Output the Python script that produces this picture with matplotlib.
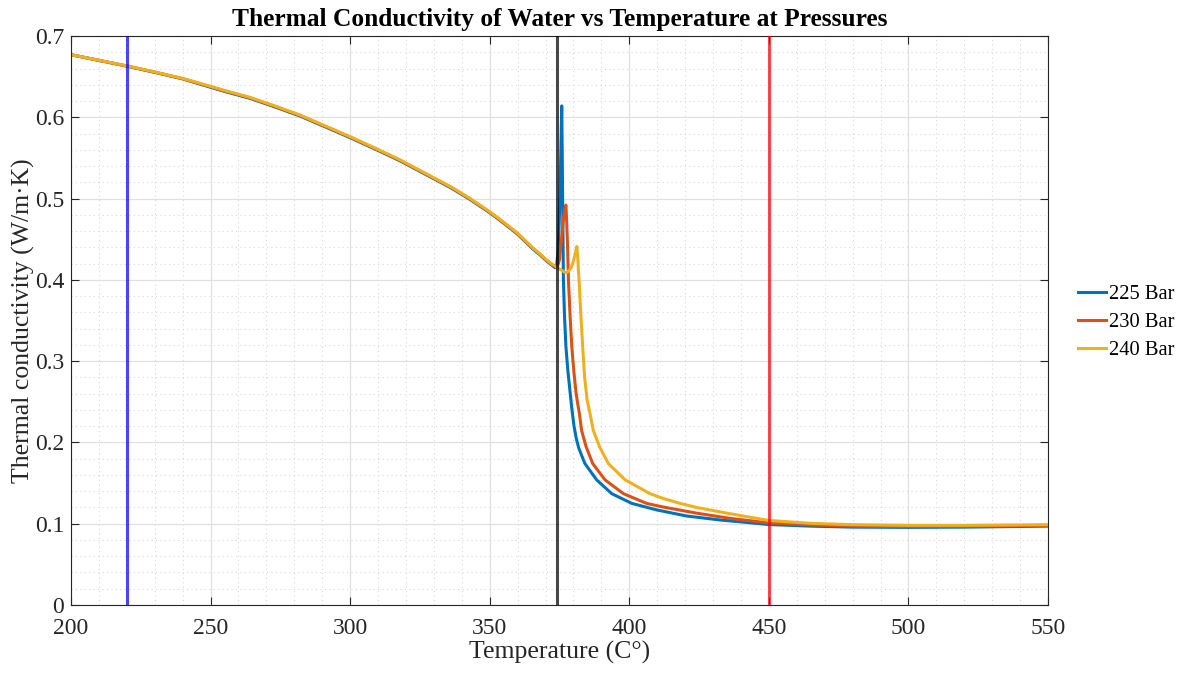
import matplotlib
matplotlib.use("Agg")
import matplotlib.pyplot as plt
from matplotlib.ticker import MultipleLocator

# ---- data ----
T_225 = [200, 210, 220, 230, 240, 246.2, 255, 264, 273, 282, 291, 300, 309, 318, 327, 336, 343, 350, 355,
         360, 365.6, 368, 370.4, 372, 373.4, 374.0, 374.5, 374.9, 375.2, 375.5, 375.8,
         376.0, 376.2, 376.4, 376.8, 377.3, 378.0, 378.7, 379.3, 380.2, 381.0, 381.9, 384.1, 388.3,
         393.7, 400.9, 409.8, 420.5, 432.5, 450, 465, 480, 500, 520, 550]
k_225 = [0.677, 0.670, 0.663, 0.6553, 0.6473, 0.6408, 0.6318, 0.6234, 0.6128, 0.6016, 0.5883, 0.5749, 0.5608,
         0.5462, 0.5298, 0.5134, 0.4988, 0.4826, 0.4698, 0.4561, 0.4376, 0.4308, 0.4232, 0.4188, 0.415,
         0.418, 0.435, 0.47, 0.51, 0.56, 0.614,
         0.55, 0.47, 0.40, 0.355, 0.318, 0.288, 0.265, 0.245, 0.220, 0.205, 0.193, 0.174, 0.154,
         0.137, 0.125, 0.117, 0.1095, 0.1046, 0.099, 0.097, 0.0958, 0.0955, 0.0958, 0.097]

T_230 = [200, 210, 220, 230, 240, 246.2, 255, 264, 273, 282, 291, 300, 309, 318, 327, 336, 343, 350, 355,
         360, 365.6, 368, 370.4, 372, 373.4, 374.2, 375.0, 375.8, 376.5, 377.0, 377.3,
         377.6, 377.9, 378.2, 378.8, 379.4, 380.2, 380.9, 381.5, 382.1, 382.9, 384.5, 386.9, 391.3,
         397.9, 406.2, 412.2, 424.1, 436.1, 450, 465, 480, 500, 520, 550]
k_230 = [0.677, 0.670, 0.663, 0.6555, 0.6475, 0.6413, 0.6325, 0.6241, 0.6135, 0.6023, 0.589, 0.5756, 0.5615,
         0.5469, 0.5305, 0.5141, 0.4995, 0.4833, 0.4705, 0.4568, 0.4383, 0.4315, 0.4239, 0.4195, 0.4165,
         0.416, 0.425, 0.453, 0.478, 0.488, 0.492,
         0.47, 0.44, 0.40, 0.355, 0.318, 0.285, 0.262, 0.248, 0.236, 0.215, 0.195, 0.174, 0.154,
         0.137, 0.125, 0.1205, 0.113, 0.1066, 0.101, 0.0985, 0.097, 0.0965, 0.0967, 0.0978]

T_240 = [200, 210, 220, 230, 240, 246.2, 255, 264, 273, 282, 291, 300, 309, 318, 327, 336, 343, 350, 355,
         360, 365.6, 368, 370.4, 372, 373.4, 374.2, 375.2, 376.2, 377.0, 377.6, 378.3, 379.0,
         379.8, 380.5, 381.0, 381.2, 381.5, 381.8, 382.0, 382.6, 383.3, 384.0, 384.9, 385.9, 387.1,
         389.3, 392.5, 398.5, 407.4, 412.2, 418.2, 424.1, 434.9, 450, 465, 480, 500, 520, 550]
k_240 = [0.677, 0.6702, 0.6633, 0.6558, 0.6478, 0.6418, 0.633, 0.6246, 0.614, 0.6028, 0.5895, 0.5761, 0.562,
         0.5474, 0.531, 0.5146, 0.5, 0.4838, 0.471, 0.4573, 0.4388, 0.432, 0.4244, 0.42, 0.417,
         0.415, 0.413, 0.411, 0.409, 0.409, 0.411, 0.414,
         0.421, 0.430, 0.438, 0.441, 0.43, 0.41, 0.40, 0.36, 0.318, 0.28, 0.252, 0.236, 0.215,
         0.195, 0.174, 0.154, 0.137, 0.131, 0.125, 0.120, 0.113, 0.104, 0.1005, 0.0988, 0.098, 0.098, 0.0988]

series_labels = ["225 Bar", "230 Bar", "240 Bar"]
series_colors = ["#0072BD", "#D95319", "#EDB120"]
vlines_x = [220, 373.95, 450]
vlines_colors = ["#0000FF", "#000000", "#FF0000"]

title = "Thermal Conductivity of Water vs Temperature at Pressures"
xlabel = "Temperature (C°)"
ylabel = "Thermal conductivity (W/m·K)"

plt.rcParams['font.family'] = ['Liberation Serif', 'DejaVu Serif']

fig = plt.figure(figsize=(11.84, 6.73), dpi=100)
ax = fig.add_axes([71/1184, 1-605/673, (1048-71)/1184, (605-36)/673])

for xv, c in zip(vlines_x, vlines_colors):
    ax.axvline(xv, color=c, lw=2.2, alpha=0.72, zorder=3)

for T, k, lab, c in zip([T_225, T_230, T_240], [k_225, k_230, k_240], series_labels, series_colors):
    ax.plot(T, k, color=c, lw=2.2, label=lab, zorder=2, solid_joinstyle='round')

ax.set_xlim(200, 550)
ax.set_ylim(0, 0.7)
ax.xaxis.set_major_locator(MultipleLocator(50))
ax.xaxis.set_minor_locator(MultipleLocator(10))
ax.yaxis.set_minor_locator(MultipleLocator(0.02))
ax.set_yticks([0, 0.1, 0.2, 0.3, 0.4, 0.5, 0.6, 0.7])
ax.set_yticklabels(["0", "0.1", "0.2", "0.3", "0.4", "0.5", "0.6", "0.7"])

ax.grid(which='major', color='#e0e0e0', lw=0.9, zorder=0)
ax.grid(which='minor', color='#d8d8d8', lw=0.8, ls=(0, (1, 3)), zorder=0)
ax.set_axisbelow(True)

ax.tick_params(which='major', direction='in', length=6, width=0.8, top=True, right=True,
               labelsize=17, colors='#262626')
ax.tick_params(axis='x', which='major', pad=9)
ax.tick_params(axis='y', which='major', pad=5)
ax.tick_params(which='minor', length=0)
for s in ax.spines.values():
    s.set_color('#262626')
    s.set_linewidth(0.8)

ax.set_title(title, fontsize=18.3, fontweight='bold', pad=7)
ax.set_xlabel(xlabel, fontsize=18.5, color='#262626', labelpad=2)
ax.set_ylabel(ylabel, fontsize=18.5, color='#262626', labelpad=0)

leg = fig.legend(loc='center left', bbox_to_anchor=(1078/1184, 1-322.5/673), frameon=False,
                 fontsize=14.8, handlelength=1.37, handletextpad=0.15, labelspacing=0.42,
                 borderpad=0, borderaxespad=0)

fig.savefig("out.png", dpi=100)
